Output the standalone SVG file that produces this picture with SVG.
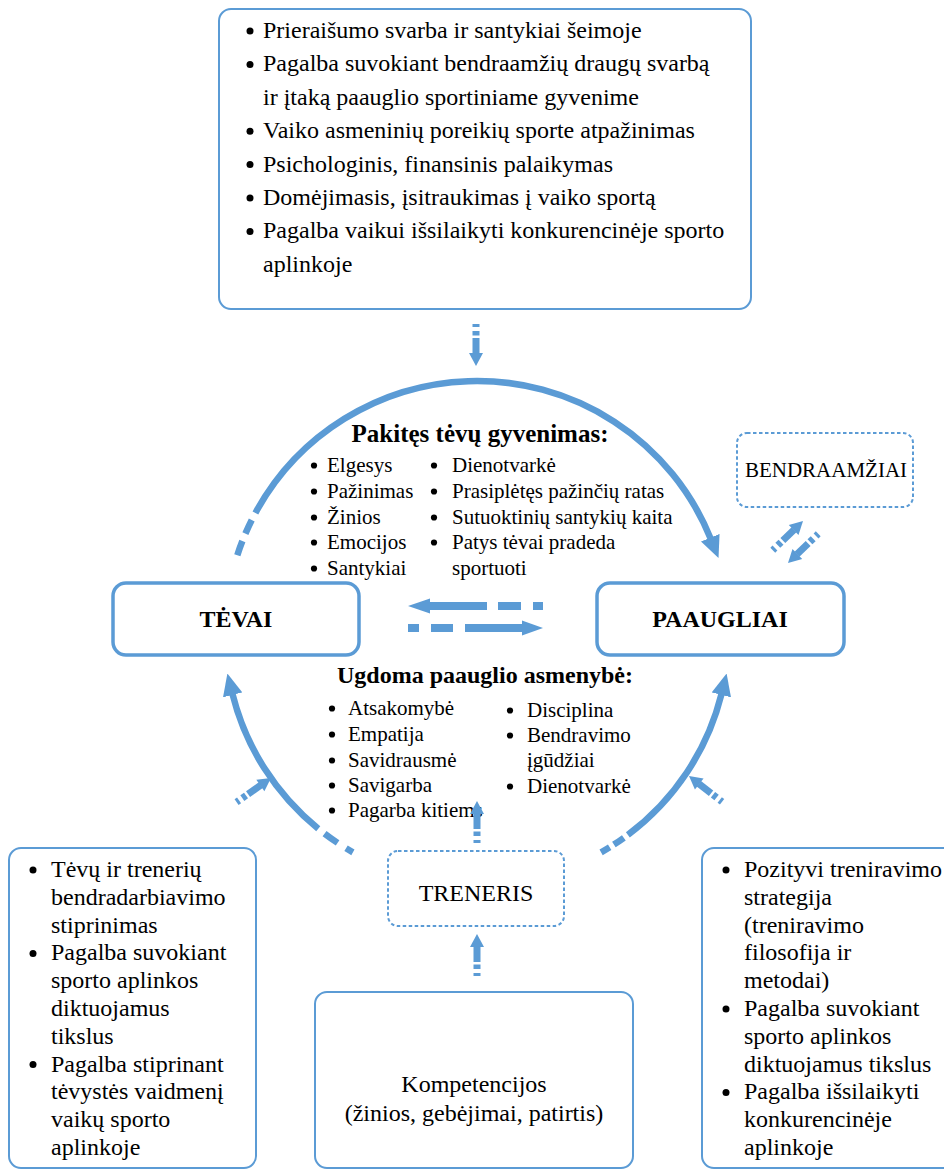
<svg xmlns="http://www.w3.org/2000/svg" width="944" height="1170" viewBox="0 0 944 1170">
  <defs>
    <style>
      text { font-family: "Liberation Serif", "Times New Roman", serif; fill: #000; }
      .t24 { font-size: 24px; }
      .t21 { font-size: 21px; }
      .b { font-weight: bold; }
      .mid { text-anchor: middle; }
      .dot { fill: #000; }
      .box { fill: #fff; stroke: #5b9bd5; stroke-width: 2; }
      .main { fill: #fff; stroke: #5b9bd5; stroke-width: 3.5; }
      .dbox { fill: #fff; stroke: #5b9bd5; stroke-width: 2; stroke-dasharray: 3.5 2.5; }
      .arc { fill: none; stroke: #5b9bd5; stroke-width: 6.5; marker-end: url(#ah); }
      .blk { fill: #5b9bd5; }
    </style>
    <!-- arrowhead for the circular arcs -->
    <marker id="ah" markerUnits="userSpaceOnUse" viewBox="0 0 22 20" markerWidth="22" markerHeight="20" refX="1" refY="10" orient="auto">
      <path d="M0,0 L22,10 L0,20 Z" fill="#5b9bd5"/>
    </marker>
    <!-- short striped arrow: tip at origin, pointing +x -->
    <g id="sa" fill="#5b9bd5">
      <path d="M0,0 L-13,-7 L-13,7 Z"/>
      <rect x="-28" y="-3.5" width="15.5" height="7"/>
      <rect x="-35" y="-3.5" width="4.5" height="7"/>
      <rect x="-42" y="-3.5" width="3" height="7"/>
    </g>
  </defs>

  <rect width="944" height="1170" fill="#fff"/>

  <!-- family support box -->
  <g id="family-support">
    <rect class="box" x="219" y="9" width="532" height="300" rx="12"/>
    <g class="dot">
      <circle cx="250" cy="31" r="3.5"/>
      <circle cx="250" cy="64.4" r="3.5"/>
      <circle cx="250" cy="131.2" r="3.5"/>
      <circle cx="250" cy="164.6" r="3.5"/>
      <circle cx="250" cy="198" r="3.5"/>
      <circle cx="250" cy="231.4" r="3.5"/>
    </g>
    <g class="t24">
      <text x="263" y="38">Prieraišumo svarba ir santykiai šeimoje</text>
      <text x="263" y="71.4">Pagalba suvokiant bendraamžių draugų svarbą</text>
      <text x="263" y="104.8">ir įtaką paauglio sportiniame gyvenime</text>
      <text x="263" y="138.2">Vaiko asmeninių poreikių sporte atpažinimas</text>
      <text x="263" y="171.6">Psichologinis, finansinis palaikymas</text>
      <text x="263" y="205">Domėjimasis, įsitraukimas į vaiko sportą</text>
      <text x="263" y="238.4">Pagalba vaikui išsilaikyti konkurencinėje sporto</text>
      <text x="263" y="271.8">aplinkoje</text>
    </g>
  </g>

  <!-- changed parental life -->
  <g id="parents-life">
    <text class="b mid" x="480" y="442" font-size="25">Pakitęs tėvų gyvenimas:</text>
    <g class="dot">
      <circle cx="314" cy="465.5" r="3.1"/>
      <circle cx="314" cy="491.5" r="3.1"/>
      <circle cx="314" cy="517.5" r="3.1"/>
      <circle cx="314" cy="542.5" r="3.1"/>
      <circle cx="314" cy="568.5" r="3.1"/>
      <circle cx="434" cy="465.5" r="3.1"/>
      <circle cx="434" cy="491.5" r="3.1"/>
      <circle cx="434" cy="517.5" r="3.1"/>
      <circle cx="434" cy="542.5" r="3.1"/>
    </g>
    <g class="t21">
      <text x="327" y="472">Elgesys</text>
      <text x="327" y="498">Pažinimas</text>
      <text x="327" y="524">Žinios</text>
      <text x="327" y="549">Emocijos</text>
      <text x="327" y="575">Santykiai</text>
      <text x="452" y="472">Dienotvarkė</text>
      <text x="452" y="498">Prasiplėtęs pažinčių ratas</text>
      <text x="452" y="524">Sutuoktinių santykių kaita</text>
      <text x="452" y="549">Patys tėvai pradeda</text>
      <text x="452" y="575">sportuoti</text>
    </g>
  </g>

  <!-- peers -->
  <g id="bendraamziai">
    <rect class="dbox" x="737" y="433" width="176" height="74" rx="10"/>
    <text class="mid" x="826" y="477" font-size="21">BENDRAAMŽIAI</text>
  </g>

  <!-- parents -->
  <g id="tevai">
    <rect class="main" x="113" y="583" width="246" height="72" rx="13"/>
    <text class="t24 b mid" x="236" y="627">TĖVAI</text>
  </g>

  <!-- adolescents -->
  <g id="paaugliai">
    <rect class="main" x="597" y="583" width="247" height="72" rx="13"/>
    <text class="t24 b mid" x="720" y="627">PAAUGLIAI</text>
  </g>

  <!-- developed personality -->
  <g id="personality">
    <text class="t24 b mid" x="485" y="683">Ugdoma paauglio asmenybė:</text>
    <g class="dot">
      <circle cx="332" cy="708.5" r="3.1"/>
      <circle cx="332" cy="734.5" r="3.1"/>
      <circle cx="332" cy="760.5" r="3.1"/>
      <circle cx="332" cy="785.5" r="3.1"/>
      <circle cx="332" cy="810.5" r="3.1"/>
      <circle cx="510" cy="710.5" r="3.1"/>
      <circle cx="510" cy="735.5" r="3.1"/>
      <circle cx="510" cy="786.5" r="3.1"/>
    </g>
    <g class="t21">
      <text x="348" y="715">Atsakomybė</text>
      <text x="348" y="741">Empatija</text>
      <text x="348" y="767">Savidrausmė</text>
      <text x="348" y="792">Savigarba</text>
      <text x="348" y="817">Pagarba kitiems</text>
      <text x="527" y="717">Disciplina</text>
      <text x="527" y="742">Bendravimo</text>
      <text x="527" y="767">įgūdžiai</text>
      <text x="527" y="793">Dienotvarkė</text>
    </g>
  </g>

  <!-- coach -->
  <g id="treneris">
    <rect class="dbox" x="388" y="851" width="176" height="75" rx="10"/>
    <text class="t24 mid" x="476" y="901">TRENERIS</text>
  </g>

  <!-- competences -->
  <g id="kompetencijos">
    <rect class="box" x="315" y="992" width="318" height="176" rx="12"/>
    <text class="t24 mid" x="474" y="1092">Kompetencijos</text>
    <text class="t24 mid" x="474" y="1121">(žinios, gebėjimai, patirtis)</text>
  </g>

  <!-- coach support to parents -->
  <g id="coach-parents">
    <rect class="box" x="9" y="848" width="247" height="320" rx="12"/>
    <g class="dot">
      <circle cx="33" cy="870" r="3.5"/>
      <circle cx="33" cy="953.4" r="3.5"/>
      <circle cx="33" cy="1064.6" r="3.5"/>
    </g>
    <g class="t24">
      <text x="51" y="877">Tėvų ir trenerių</text>
      <text x="51" y="904.8">bendradarbiavimo</text>
      <text x="51" y="932.6">stiprinimas</text>
      <text x="51" y="960.4">Pagalba suvokiant</text>
      <text x="51" y="988.2">sporto aplinkos</text>
      <text x="51" y="1016">diktuojamus</text>
      <text x="51" y="1043.8">tikslus</text>
      <text x="51" y="1071.6">Pagalba stiprinant</text>
      <text x="51" y="1099.4">tėvystės vaidmenį</text>
      <text x="51" y="1127.2">vaikų sporto</text>
      <text x="51" y="1155">aplinkoje</text>
    </g>
  </g>

  <!-- coach support to adolescents -->
  <g id="coach-adolescents">
    <rect class="box" x="702" y="848" width="260" height="320" rx="12"/>
    <g class="dot">
      <circle cx="726" cy="870" r="3.5"/>
      <circle cx="726" cy="1009" r="3.5"/>
      <circle cx="726" cy="1092.4" r="3.5"/>
    </g>
    <g class="t24">
      <text x="744" y="877">Pozityvi treniravimo</text>
      <text x="744" y="904.8">strategija</text>
      <text x="744" y="932.6">(treniravimo</text>
      <text x="744" y="960.4">filosofija ir</text>
      <text x="744" y="988.2">metodai)</text>
      <text x="744" y="1016">Pagalba suvokiant</text>
      <text x="744" y="1043.8">sporto aplinkos</text>
      <text x="744" y="1071.6">diktuojamus tikslus</text>
      <text x="744" y="1099.4">Pagalba išsilaikyti</text>
      <text x="744" y="1127.2">konkurencinėje</text>
      <text x="744" y="1155">aplinkoje</text>
    </g>
  </g>

  <!-- connectors -->
  <g id="connectors">
    <!-- cycle arcs, circle centre (477,633) r 252 -->
    <path class="arc" d="M237.33,555.13 A252,252 0 0 1 710.65,538.60" stroke-dasharray="15 8 15 8 1000"/>
    <path class="arc" d="M352.9,852.3 A252,252 0 0 1 232.48,693.96" stroke-dasharray="8 10 16 8 1000"/>
    <path class="arc" d="M601.1,852.3 A252,252 0 0 0 721.52,693.96" stroke-dasharray="10 5 12 5 1000"/>

    <!-- parents <-> adolescents -->
    <g class="blk">
      <path d="M408,606 L430,598.5 L430,613.5 Z"/>
      <rect x="429" y="602" width="58" height="8"/>
      <rect x="498" y="602" width="23" height="8"/>
      <rect x="533" y="602" width="10" height="8"/>
      <rect x="408" y="624" width="11" height="8"/>
      <rect x="431" y="624" width="22" height="8"/>
      <rect x="465" y="624" width="58" height="8"/>
      <path d="M543,628 L522,620.5 L522,635.5 Z"/>
    </g>

    <!-- short striped arrows -->
    <use href="#sa" transform="translate(476,366) rotate(90)"/>
    <use href="#sa" transform="translate(477,801) rotate(-90)"/>
    <use href="#sa" transform="translate(477,934) rotate(-90)"/>
    <use href="#sa" transform="translate(271,778) rotate(-35)"/>
    <use href="#sa" transform="translate(689,776) rotate(-142)"/>
    <use href="#sa" transform="translate(803,521) rotate(-44)"/>
    <use href="#sa" transform="translate(788,563) rotate(136)"/>
  </g>
</svg>
